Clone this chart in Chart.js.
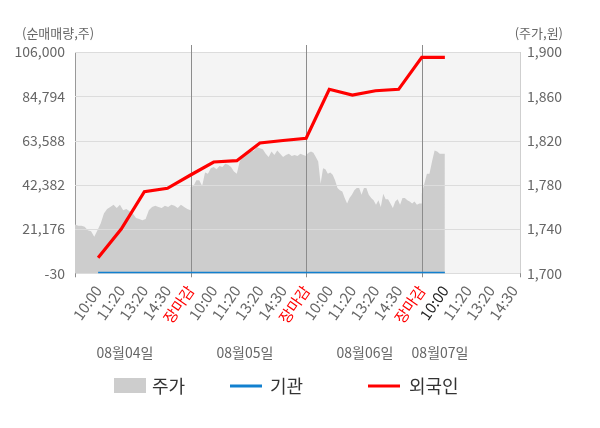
<!DOCTYPE html>
<html><head><meta charset="utf-8">
<script src="https://cdn.jsdelivr.net/npm/chart.js@4.4.0/dist/chart.umd.min.js"></script>
<style>html,body{margin:0;padding:0;background:#fff;overflow:hidden}#wrap{position:relative;width:600px;height:428px}</style>
</head><body><div id="wrap"><canvas id="c" width="600" height="428"></canvas></div>
<script>
// ---- data ----
const timeLabels = ['10:00','11:20','13:20','14:30','장마감',
                    '10:00','11:20','13:20','14:30','장마감',
                    '10:00','11:20','13:20','14:30','장마감',
                    '10:00','11:20','13:20','14:30'];
const dayLabels = ['08월04일','08월05일','08월06일','08월07일'];
const seriesNames = ['주가','기관','외국인'];
// 주가 (원), intraday, one array per trading day
const price0804 = [1744,1743,1743,1742,1739,1738,1733,1739,1745,1754,1758,1760,1762,1759,1762,1757,1758,1756,1754,1750,1749,1748,1749,1757,1760,1761,1760,1759,1761,1760,1762,1761,1759,1762,1760,1758,1757];
const price0805 = [1778,1779,1784,1784,1779,1791,1790,1795,1796,1794,1797,1796,1799,1798,1796,1792,1790,1801,1805,1807,1809,1810,1811,1814,1813,1812,1808,1805,1810,1807,1811,1808,1805,1807,1808,1806,1807,1806,1808,1807,1806];
const price0806 = [1807,1809,1810,1809,1805,1801,1781,1795,1794,1790,1791,1789,1784,1777,1775,1774,1768,1763,1768,1771,1775,1777,1777,1771,1777,1777,1771,1768,1766,1762,1766,1760,1772,1767,1767,1763,1759,1765,1767,1762,1768,1768,1766,1765,1763,1765,1762,1763,1763];
const price0807 = [1772,1781,1790,1790,1801,1811,1810,1808,1808,1808];
// 순매매량 (주), cumulative, one value per time label up to 08/07 10:00
const foreignNet     = [7440,21200,39070,40690,47070,53290,53920,62400,63600,64650,88120,85390,87450,88120,103460,103460];
const institutionNet = [0,0,0,0,0,0,0,0,0,0,0,0,0,-30,0,0];
const leftTicks  = [-30,21176,42382,63588,84794,106000];
const rightTicks = [1700,1740,1780,1820,1860,1900];

const FONT = '"Noto Sans CJK KR","Noto Sans",sans-serif';
const dayPrices = [price0804, price0805, price0806, price0807];
const slotsPerDay = 5;

function buildPricePoints() {
  const pts = [];
  dayPrices.forEach((arr, d) => {
    const start = d * slotsPerDay;
    const span = (d === dayPrices.length - 1) ? 1 : slotsPerDay;
    arr.forEach((v, i) => pts.push({x: start + span * i / (arr.length - 1), y: v}));
  });
  return pts;
}
const foreignPts = foreignNet.map((v, i) => ({x: i + 1, y: v}));
const instPts = institutionNet.map((v, i) => ({x: i + 1, y: v}));

const decor = {
  id: 'decor',
  beforeDraw(chart) {
    const {ctx, chartArea: a} = chart;
    ctx.save();
    ctx.fillStyle = '#f4f4f4';
    ctx.fillRect(a.left, a.top, a.right - a.left, a.bottom - a.top);
    ctx.restore();
  },
  afterDatasetDraw(chart, args) {
    if (args.index !== 0) return;
    const {ctx, chartArea: a, scales} = chart;
    ctx.save();
    ctx.strokeStyle = '#dcdcdc';
    ctx.lineWidth = 1;
    scales.y.ticks.forEach(t => {
      const y = Math.round(scales.y.getPixelForValue(t.value)) + 0.5;
      ctx.beginPath(); ctx.moveTo(a.left, y); ctx.lineTo(a.right, y); ctx.stroke();
    });
    ctx.strokeStyle = '#8c8c8c';
    [5, 10, 15].forEach(v => {
      const x = Math.round(scales.x.getPixelForValue(v)) + 0.5;
      ctx.beginPath(); ctx.moveTo(x, a.top - 7); ctx.lineTo(x, a.bottom + 4); ctx.stroke();
    });
    [a.left, a.right].forEach(px => {
      const x = Math.round(px) + 0.5;
      ctx.beginPath(); ctx.moveTo(x, a.bottom); ctx.lineTo(x, a.bottom + 4); ctx.stroke();
    });
    ctx.restore();
  },
  afterDraw(chart) {
    const {ctx, scales} = chart;
    ctx.save();
    ctx.fillStyle = '#666';
    ctx.font = '13px ' + FONT;
    ctx.textBaseline = 'middle';
    ctx.textAlign = 'left';
    ctx.fillText('(순매매량,주)', 22, 33);
    ctx.textAlign = 'right';
    ctx.fillText('(주가,원)', 563, 33);
    ctx.font = '14px ' + FONT;
    ctx.textAlign = 'center';
    const datePos = [2.16, 7.35, 12.54, 15.79];
    dayLabels.forEach((t, i) => ctx.fillText(t, scales.x.getPixelForValue(datePos[i]), 353));
    const ds = chart.data.datasets;
    ctx.font = '18px ' + FONT;
    ctx.textAlign = 'left';
    ctx.fillStyle = ds[0].backgroundColor;
    ctx.fillRect(114, 378, 32, 15);
    ctx.fillStyle = '#333';
    ctx.fillText(ds[0].label, 152, 386);
    ctx.lineWidth = 3;
    ctx.strokeStyle = ds[1].borderColor;
    ctx.beginPath(); ctx.moveTo(230, 386); ctx.lineTo(262, 386); ctx.stroke();
    ctx.fillText(ds[1].label, 270, 386);
    ctx.strokeStyle = ds[2].borderColor;
    ctx.beginPath(); ctx.moveTo(368, 386); ctx.lineTo(400, 386); ctx.stroke();
    ctx.fillText(ds[2].label, 409, 386);
    ctx.restore();
  }
};

function draw() {
  new Chart(document.getElementById('c'), {
    type: 'line',
    data: {
      datasets: [
        {label: seriesNames[0], data: buildPricePoints(), yAxisID: 'y1', order: 2,
         fill: 'start', backgroundColor: '#cdcdcd', borderWidth: 0, pointRadius: 0, tension: 0},
        {label: seriesNames[1], data: instPts, yAxisID: 'y', order: 1,
         borderColor: '#1280cf', borderWidth: 3, pointRadius: 0, fill: false, tension: 0},
        {label: seriesNames[2], data: foreignPts, yAxisID: 'y', order: 0,
         borderColor: '#ff0000', borderWidth: 3.2, pointRadius: 0, fill: false, tension: 0}
      ]
    },
    options: {
      responsive: false,
      animation: false,
      devicePixelRatio: 1,
      layout: {padding: {top: 52, left: 0, right: 0, bottom: 0}},
      plugins: {legend: {display: false}, tooltip: {enabled: false}},
      scales: {
        x: {
          type: 'linear', min: 0, max: 19.25,
          afterBuildTicks(s) { s.ticks = timeLabels.map((_, i) => ({value: i + 1})); },
          afterFit(s) { s.height = 154.7; },
          grid: {display: false, drawTicks: false},
          border: {display: true, color: '#999'},
          ticks: {
            autoSkip: false, minRotation: 55, maxRotation: 55, padding: 9,
            font: {family: FONT, size: 15},
            color: c => {
              const lab = timeLabels[c.index];
              if (lab === '장마감') return '#ff0000';
              if (c.index === 15) return '#222';
              return '#666';
            },
            callback: (v) => timeLabels[Math.round(v) - 1]
          }
        },
        y: {
          position: 'left', min: leftTicks[0], max: leftTicks[leftTicks.length - 1],
          afterBuildTicks(s) { s.ticks = leftTicks.map(v => ({value: v})); },
          afterFit(s) { s.width = 75; },
          grid: {drawOnChartArea: false, drawTicks: false},
          border: {display: true, color: '#999'},
          ticks: {padding: 10, font: {family: FONT, size: 14}, color: '#666',
                  callback: v => v.toLocaleString('en-US')}
        },
        y1: {
          position: 'right', min: rightTicks[0], max: rightTicks[rightTicks.length - 1],
          afterBuildTicks(s) { s.ticks = rightTicks.map(v => ({value: v})); },
          afterFit(s) { s.width = 80; },
          grid: {drawOnChartArea: false, drawTicks: false},
          border: {display: true, color: '#cfcfcf'},
          ticks: {padding: 7, font: {family: FONT, size: 14}, color: '#666',
                  callback: v => v.toLocaleString('en-US')}
        }
      }
    },
    plugins: [decor]
  });
}
if (document.fonts && document.fonts.load) {
  Promise.all([document.fonts.load('14px "Noto Sans CJK KR"', '가0')]).then(draw, draw);
} else { draw(); }
</script>
</body></html>
